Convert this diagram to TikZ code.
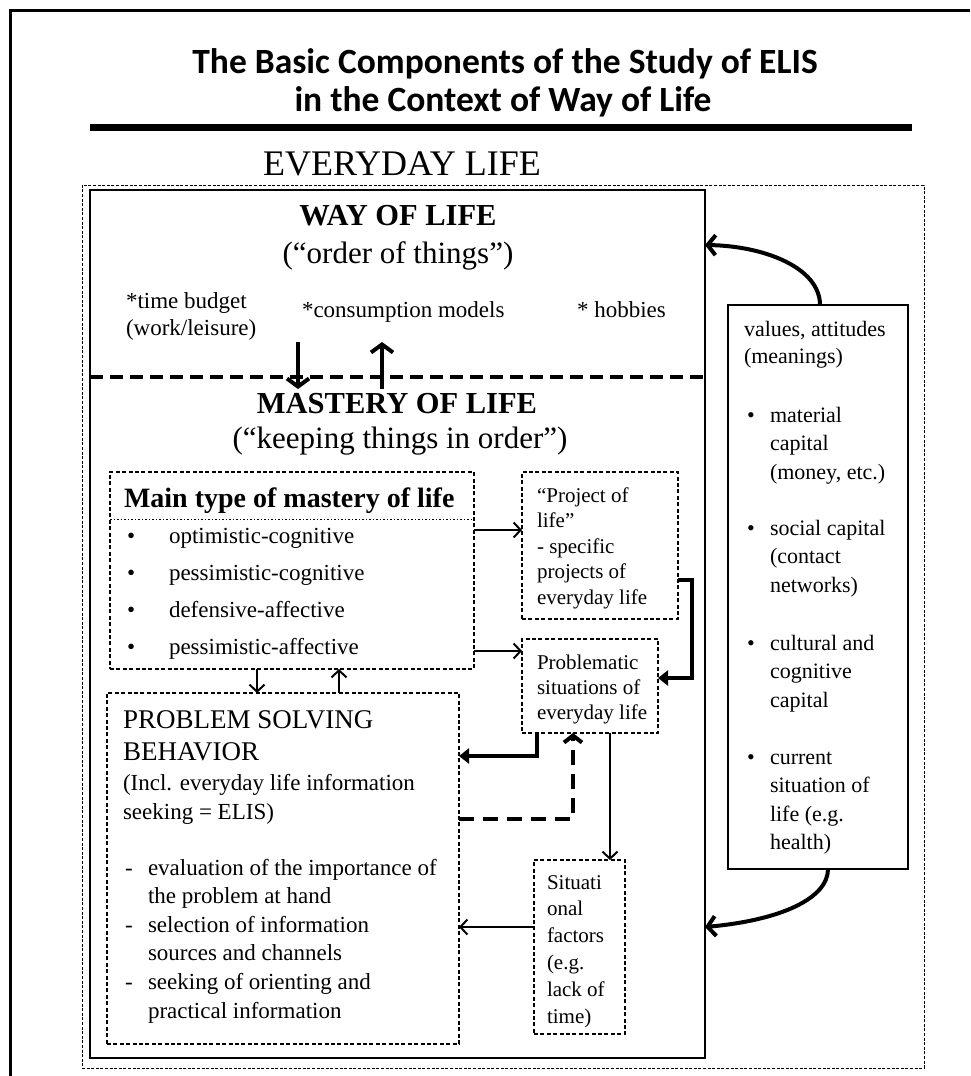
\documentclass[tikz,border=0pt]{standalone}
\usepackage{fontspec}
\setmainfont{Liberation Serif}
\newfontfamily\titlefont{Carlito}
\usetikzlibrary{arrows.meta}

\newcommand\fsz[1]{\fontsize{#1}{#1}\selectfont}

\begin{document}
\begin{tikzpicture}[x=1pt,y=-1pt,
  every node/.style={inner sep=0pt, outer sep=0pt},
  frameline/.style={line width=3pt},
  outerdash/.style={draw, line width=0.9pt, dash pattern=on 3pt off 1.6pt},
  solidbox/.style={draw, line width=2pt},
  valbox/.style={draw, line width=1.5pt},
  dbox/.style={draw, line width=1.2pt, dash pattern=on 4pt off 2.4pt},
  sepline/.style={line width=4pt, dash pattern=on 13pt off 7pt},
  thinarrow/.style={line width=1.6pt, -{Straight Barb[length=7pt,width=15pt,line width=2pt]}},
  bigarrow/.style={line width=4pt, -{Straight Barb[length=8pt,width=22pt]}},
  elbowarrow/.style={line width=4pt, -{Triangle[length=10pt,width=15pt]}},
  dasharrow/.style={line width=4pt, dash pattern=on 15pt off 9pt, -{Straight Barb[length=7pt,width=18pt]}},
  curvearrow/.style={line width=4pt, -{Straight Barb[length=8pt,width=20pt]}},
  ttl/.style={anchor=base, font={\titlefont\fsz{35.5}\bfseries}},
  lbl/.style={anchor=base west},
  big/.style={anchor=base, font=\fsz{31}},
  bigb/.style={anchor=base, font={\fsz{30.5}\bfseries}},
  t23/.style={lbl, font=\fsz{23}},
  t22/.style={lbl, font=\fsz{22}},
  t21/.style={lbl, font=\fsz{21}},
  t27/.style={lbl, font=\fsz{27}}
]
\useasboundingbox (0,0) rectangle (970,1076);

% page frame
\coordinate (frBL) at (10,1076);
\coordinate (frTL) at (10,10);
\coordinate (frTR) at (970,10);
\draw[frameline] (frBL) -- (frTL) -- (frTR);

% title
\node[ttl] (title1) at (505,73) {The Basic Components of the Study of ELIS};
\node[ttl] (title2) at (503,111) {in the Context of Way of Life};
\coordinate (ruleL) at (90,127);
\coordinate (ruleR) at (912,127);
\draw[line width=7pt] (ruleL) -- (ruleR);

\node[anchor=base, font=\fsz{36}] (everyday) at (402,175) {EVERYDAY LIFE};

% boxes
\node[outerdash, minimum width=842pt, minimum height=883pt] (elife) at (503,626.5) {};
\node[solidbox, minimum width=615pt, minimum height=868pt] (wol) at (397.5,624) {};
\node[dbox, minimum width=364pt, minimum height=197pt] (maintype) at (292,570.5) {};
\node[dbox, minimum width=156pt, minimum height=147pt] (project) at (600,545.5) {};
\node[dbox, minimum width=136pt, minimum height=94pt] (problem) at (590,686) {};
\node[dbox, minimum width=352pt, minimum height=351pt] (ps) at (283,868.5) {};
\node[dbox, minimum width=91pt, minimum height=174pt] (situ) at (579.5,947) {};
\node[valbox, minimum width=180pt, minimum height=564pt] (values) at (818,587) {};

% way of life / mastery of life divider
\coordinate (sepy) at (0,377);
\draw[sepline] (wol.west |- sepy) -- (wol.east |- sepy);

% way of life
\node[bigb] (wolh) at (398,225) {WAY OF LIFE};
\node[big] (wols) at (398,263) {(“order of things”)};
\node[t23] (tb1) at (126,308) {*time budget};
\node[t23] (tb2) at (126,335) {(work/leisure)};
\node[t23] (cons) at (302,317) {*consumption models};
\node[t23] (hobby) at (577,317) {* hobbies};

\coordinate (dnTop) at (298,342);
\coordinate (dnBot) at (298,389);
\coordinate (upBot) at (382,389);
\coordinate (upTop) at (382,342);
\draw[bigarrow] (dnTop) -- (dnBot);
\draw[bigarrow] (upBot) -- (upTop);

% mastery of life
\node[bigb] (molh) at (397,413) {MASTERY OF LIFE};
\node[big] (mols) at (400,448) {(“keeping things in order”)};

% main type of mastery of life
\node[lbl, font={\fsz{28}\bfseries}] (mth) at (124,507) {Main type of mastery of life};
\coordinate (doty) at (0,519);
\draw[line width=1pt, dash pattern=on 1.5pt off 2pt] (maintype.west |- doty) -- (maintype.east |- doty);
\foreach \t [count=\i from 0] in {optimistic-cognitive, pessimistic-cognitive, defensive-affective, pessimistic-affective} {
  \node[t23] (mtb\i) at (127,543+37*\i) {•};
  \node[t23] (mt\i) at (169,543+37*\i) {\t};
}

% project of life
\foreach \t [count=\i from 0] in {“Project of, life”, - specific, projects of, everyday life}
  \node[t21] (pj\i) at (537,502+25.5*\i) {\t};

% problematic situations
\foreach \t [count=\i from 0] in {Problematic, situations of, everyday life}
  \node[t21] (pb\i) at (537,669+25*\i) {\t};

% problem solving behaviour
\node[t27] (psh0) at (123,728) {PROBLEM SOLVING};
\node[t27] (psh1) at (123,760) {BEHAVIOR};
\node[t23] (psi0) at (123,790) {(Incl. everyday life information};
\node[t23] (psi1) at (123,819) {seeking = ELIS)};
\foreach \t [count=\i from 0] in {evaluation of the importance of, the problem at hand, selection of information, sources and channels, seeking of orienting and, practical information}
  \node[t23] (psl\i) at (148,875+28.6*\i) {\t};
\foreach \i in {0,2,4}
  \node[t23] (psd\i) at (125,875+28.6*\i) {-};

% situational factors
\foreach \t [count=\i from 0] in {{Situati}, {onal}, {factors}, {(e.g.}, {lack of}, {time)}}
  \node[t21] (sf\i) at (547,889+26.8*\i) {\t};

% values and capitals
\node[t22] (v0) at (744,336) {values, attitudes};
\node[t22] (v1) at (744,363) {(meanings)};
\foreach \y/\t [count=\i] in {422/material, 450.5/capital, 479/{(money, etc.)},
  535/social capital, 563.5/{(contact}, 592/{networks)},
  650/cultural and, 678.5/cognitive, 707/capital,
  764/current, 792.5/situation of, 821/{life (e.g.}, 849.5/{health)}}
  \node[t22] (vc\i) at (770,\y) {\t};
\foreach \y [count=\i] in {422,535,650,764}
  \node[t22] (vb\i) at (747,\y) {•};

% connectors
\coordinate (rA) at (0,530);
\coordinate (rB) at (0,651);
\draw[thinarrow] (maintype.east |- rA) -- (project.west |- rA);
\draw[thinarrow] (maintype.east |- rB) -- (problem.west |- rB);

\coordinate (cA) at (257,0);
\coordinate (cB) at (339,0);
\draw[thinarrow] (maintype.south -| cA) -- (ps.north -| cA);
\draw[thinarrow] (ps.north -| cB) -- (maintype.south -| cB);

\coordinate (rC) at (0,580);
\coordinate (cC) at (692,0);
\coordinate (rD) at (0,678);
\draw[elbowarrow] (project.east |- rC) -| (cC |- rD) -- (problem.east |- rD);

\coordinate (cD) at (537,0);
\coordinate (rE) at (0,756);
\draw[elbowarrow] (problem.south -| cD) |- (ps.east |- rE);

\coordinate (rF) at (0,819);
\coordinate (cE) at (573,0);
\draw[dasharrow] (ps.east |- rF) -| (problem.south -| cE);

\coordinate (cF) at (610,0);
\draw[thinarrow] (problem.south -| cF) -- (situ.north -| cF);

\coordinate (rG) at (0,927);
\draw[thinarrow] (situ.west |- rG) -- (ps.east |- rG);

\coordinate (cG) at (820,0);
\coordinate (rH) at (0,245);
\draw[curvearrow] (values.north -| cG) .. controls (820,268) and (765,246) .. (wol.east |- rH);

\coordinate (cH) at (828,0);
\coordinate (rI) at (0,927);
\draw[curvearrow] (values.south -| cH) .. controls (828,898) and (782,920) .. (wol.east |- rI);
\end{tikzpicture}
\end{document}
